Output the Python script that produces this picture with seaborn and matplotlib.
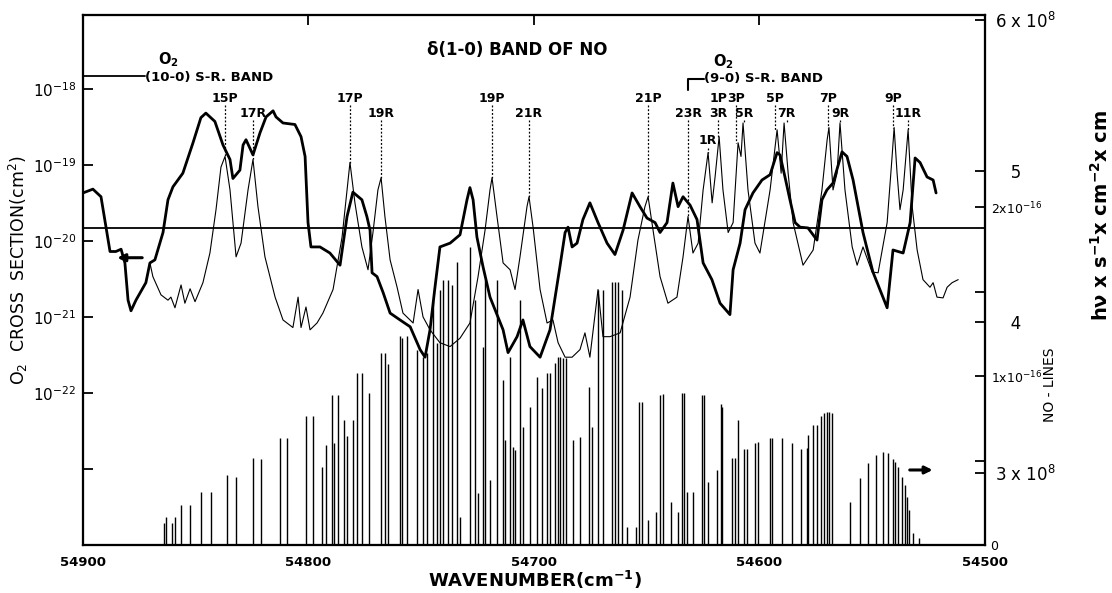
import matplotlib
matplotlib.use("Agg")
import matplotlib.pyplot as plt
from matplotlib.ticker import NullLocator
import numpy as np
import pandas as pd
import seaborn as sns

# (wavenumber cm-1, log10 cross section cm2)
thick_curve = [
    (54900.0, -19.37), (54895.6, -19.32), (54892.0, -19.42), (54889.8, -19.82), (54888.0, -20.14),
    (54885.4, -20.14), (54883.1, -20.11), (54881.4, -20.29), (54880.0, -20.78), (54878.7, -20.92),
    (54876.5, -20.78), (54872.1, -20.55), (54870.3, -20.29), (54868.1, -20.25), (54864.5, -19.89),
    (54862.3, -19.46), (54860.1, -19.29), (54855.7, -19.11), (54851.2, -18.71), (54847.7, -18.38),
    (54845.5, -18.32), (54841.5, -18.43), (54837.9, -18.74), (54834.8, -18.93), (54833.5, -19.18),
    (54830.4, -19.07), (54829.0, -18.74), (54827.7, -18.67), (54824.6, -18.87), (54821.5, -18.58),
    (54818.8, -18.37), (54815.7, -18.29), (54814.4, -18.37), (54811.3, -18.45), (54806.0, -18.47),
    (54803.3, -18.63), (54801.5, -18.89), (54800.2, -19.76), (54798.9, -20.08), (54794.9, -20.08),
    (54790.5, -20.16), (54786.0, -20.32), (54782.9, -19.68), (54780.3, -19.36), (54776.3, -19.46),
    (54774.1, -19.68), (54772.7, -19.86), (54771.8, -20.42), (54769.6, -20.47), (54766.9, -20.68),
    (54763.8, -20.95), (54759.4, -21.04), (54754.9, -21.13), (54750.5, -21.43), (54748.3, -21.53),
    (54746.1, -21.17), (54743.9, -20.61), (54741.7, -20.08), (54737.2, -20.03), (54732.8, -19.92),
    (54729.7, -19.46), (54728.4, -19.30), (54727.0, -19.46), (54725.3, -19.95), (54722.6, -20.34),
    (54719.5, -20.74), (54713.7, -21.17), (54711.5, -21.47), (54707.5, -21.26), (54704.9, -21.04),
    (54701.8, -21.39), (54697.3, -21.53), (54692.9, -21.17), (54688.5, -20.34), (54686.2, -19.89),
    (54684.9, -19.82), (54683.1, -20.08), (54680.9, -20.03), (54678.3, -19.72), (54675.2, -19.50),
    (54671.6, -19.76), (54667.6, -20.03), (54664.1, -20.18), (54660.5, -19.86), (54656.5, -19.37),
    (54653.0, -19.55), (54649.9, -19.70), (54646.3, -19.76), (54644.1, -19.89), (54641.0, -19.76),
    (54638.4, -19.24), (54636.1, -19.55), (54633.9, -19.42), (54630.8, -19.53), (54627.7, -19.72),
    (54625.0, -20.29), (54621.1, -20.51), (54617.5, -20.82), (54613.1, -20.97), (54611.7, -20.38),
    (54608.6, -20.03), (54606.4, -19.59), (54602.9, -19.37), (54598.9, -19.20), (54595.3, -19.13),
    (54592.2, -18.84), (54590.9, -18.87), (54588.7, -19.16), (54586.5, -19.46), (54584.2, -19.76),
    (54582.0, -19.82), (54578.5, -19.83), (54574.5, -19.99), (54572.3, -19.46), (54570.1, -19.33),
    (54567.4, -19.24), (54563.4, -18.83), (54561.2, -18.89), (54558.5, -19.20), (54554.1, -19.89),
    (54549.7, -20.41), (54543.4, -20.88), (54540.8, -20.12), (54536.3, -20.16), (54533.2, -19.76),
    (54531.0, -18.91), (54528.8, -18.97), (54525.7, -19.16), (54523.0, -19.20), (54521.7, -19.37),
]

thin_curve = [
    (54870.3, -20.29), (54869.0, -20.47), (54865.4, -20.71), (54862.3, -20.78), (54861.0, -20.74),
    (54859.2, -20.88), (54856.5, -20.58), (54854.8, -20.82), (54852.5, -20.63), (54850.3, -20.80),
    (54846.8, -20.55), (54843.7, -20.16), (54841.0, -19.59), (54838.8, -19.03), (54837.0, -18.89),
    (54834.8, -19.33), (54832.1, -20.21), (54829.9, -20.03), (54826.8, -19.33), (54824.6, -18.93),
    (54822.4, -19.55), (54819.3, -20.21), (54814.8, -20.74), (54811.3, -21.04), (54806.9, -21.14),
    (54804.6, -20.74), (54803.3, -21.14), (54801.1, -20.87), (54799.3, -21.17), (54796.2, -21.08),
    (54793.6, -20.95), (54789.1, -20.64), (54785.1, -19.95), (54782.9, -19.33), (54781.6, -18.97),
    (54779.4, -19.50), (54776.3, -20.08), (54773.6, -20.38), (54771.4, -19.89), (54769.2, -19.33),
    (54767.8, -19.17), (54766.1, -19.68), (54763.8, -20.25), (54760.7, -20.61), (54758.1, -20.95),
    (54753.6, -21.08), (54751.4, -20.64), (54749.2, -21.00), (54746.1, -21.17), (54741.7, -21.34),
    (54737.2, -21.39), (54732.8, -21.28), (54728.4, -21.08), (54724.8, -20.47), (54721.7, -19.86),
    (54719.5, -19.33), (54718.6, -19.17), (54716.4, -19.68), (54713.7, -20.29), (54710.6, -20.38),
    (54708.4, -20.64), (54706.2, -20.21), (54703.1, -19.55), (54702.2, -19.42), (54700.4, -19.82),
    (54697.3, -20.64), (54694.2, -21.08), (54691.6, -21.04), (54689.3, -21.34), (54686.2, -21.53),
    (54683.1, -21.53), (54679.6, -21.43), (54677.4, -21.21), (54675.2, -21.53), (54671.6, -20.64),
    (54669.4, -21.26), (54666.3, -21.26), (54661.8, -21.21), (54657.4, -20.74), (54653.9, -19.99),
    (54650.8, -19.55), (54649.4, -19.42), (54647.2, -19.86), (54644.1, -20.47), (54640.6, -20.82),
    (54636.6, -20.74), (54633.9, -20.21), (54631.7, -19.68), (54629.5, -20.16), (54627.2, -20.03),
    (54625.0, -19.33), (54622.8, -18.84), (54621.0, -19.50), (54619.7, -19.16), (54617.9, -18.63),
    (54616.2, -19.33), (54613.9, -19.89), (54611.7, -19.76), (54609.5, -18.71), (54608.2, -18.89),
    (54607.3, -18.45), (54605.1, -19.33), (54602.0, -20.03), (54599.8, -20.16), (54595.3, -19.33),
    (54592.2, -18.54), (54590.4, -19.11), (54589.1, -18.45), (54587.3, -19.11), (54585.1, -19.76),
    (54580.7, -20.32), (54576.2, -20.12), (54572.3, -19.33), (54570.0, -18.67), (54569.2, -18.51),
    (54567.4, -19.33), (54565.6, -19.11), (54564.3, -18.45), (54562.1, -19.33), (54558.9, -20.08),
    (54556.7, -20.32), (54554.1, -20.08), (54550.1, -20.41), (54547.4, -20.42), (54543.4, -19.76),
    (54541.2, -18.89), (54540.3, -18.51), (54539.0, -19.11), (54537.7, -19.59), (54536.3, -19.33),
    (54534.1, -18.54), (54532.3, -19.55), (54530.1, -20.12), (54527.5, -20.51), (54524.4, -20.61),
    (54523.0, -20.55), (54521.3, -20.74), (54518.6, -20.75), (54516.8, -20.61), (54514.6, -20.55),
    (54511.9, -20.51),
]

# NO line positions and strengths (units of 1e-16)
stick_wn = [
    54864.1, 54863.2, 54860.5, 54859.2, 54856.5, 54852.5, 54847.7, 54843.2, 54836.1, 54832.1,
    54824.6, 54821.1, 54812.6, 54809.5, 54801.1, 54798.0, 54794.0, 54792.2, 54789.6, 54788.7,
    54786.9, 54784.2, 54782.9, 54780.3, 54778.5, 54776.3, 54773.2, 54767.8, 54766.1, 54764.7,
    54759.4, 54758.5, 54756.3, 54751.9, 54749.2, 54747.4, 54744.8, 54743.0, 54741.7, 54740.3,
    54738.1, 54736.4, 54734.1, 54732.8, 54728.4, 54726.1, 54724.8, 54722.6, 54721.7, 54719.5,
    54716.4, 54713.7, 54712.8, 54710.6, 54709.3, 54708.4, 54706.2, 54704.9, 54701.8, 54698.7,
    54696.4, 54694.2, 54692.9, 54690.7, 54689.3, 54688.5, 54687.1, 54685.8,
    54682.7, 54679.6, 54675.6, 54674.3, 54671.6, 54669.4, 54665.4, 54664.1, 54662.7, 54661.0,
    54658.7, 54654.7, 54653.4, 54652.1, 54649.4, 54645.9, 54644.1, 54642.8, 54639.2, 54636.1,
    54634.3, 54633.5, 54632.1, 54629.5, 54625.5, 54624.6, 54622.8, 54618.8, 54617.0, 54616.6,
    54612.2, 54610.8, 54609.5, 54606.8, 54605.5, 54602.0, 54600.6, 54595.3, 54594.4, 54590.0,
    54585.6, 54581.6, 54578.9, 54578.5, 54576.2, 54574.5, 54572.7, 54571.4, 54570.0, 54569.2,
    54567.8,
    54559.8, 54555.4, 54551.9, 54548.3, 54545.2, 54543.0, 54540.8, 54539.9, 54538.5, 54536.8,
    54535.4, 54534.6, 54533.7, 54531.9, 54529.2,
]
stick_h = [
    0.130, 0.166, 0.130, 0.166, 0.237, 0.237, 0.314, 0.314, 0.414, 0.402,
    0.515, 0.509, 0.633, 0.633, 0.763, 0.763, 0.462, 0.592, 0.888, 0.604,
    0.888, 0.740, 0.645, 0.740, 1.018, 1.018, 0.899, 1.136, 1.136, 1.071,
    1.237, 1.225, 1.237, 1.154, 1.112, 1.136, 1.450, 1.195, 1.509, 1.568,
    1.568, 1.538, 1.675, 0.166, 1.763, 1.450, 0.308, 1.172, 1.568, 0.385,
    1.568, 0.976, 0.621, 1.112, 0.580, 0.562, 1.450, 0.698, 0.817, 0.994,
    0.929, 1.018, 1.018, 1.077, 1.112, 1.112, 1.107, 1.107,
    0.621, 0.639, 0.935, 0.698, 1.509, 1.509, 1.556, 1.556, 1.556, 1.509,
    0.107, 0.107, 0.846, 0.846, 0.148, 0.195, 0.888, 0.893, 0.254, 0.195,
    0.899, 0.899, 0.314, 0.314, 0.888, 0.888, 0.373, 0.444, 0.834, 0.817,
    0.515, 0.515, 0.740, 0.568, 0.568, 0.604, 0.609, 0.633, 0.633, 0.633,
    0.604, 0.568, 0.574, 0.651, 0.710, 0.710, 0.763, 0.781, 0.787, 0.787,
    0.781,
    0.254, 0.396, 0.485, 0.533, 0.550, 0.544, 0.509, 0.491, 0.462, 0.402,
    0.355, 0.284, 0.207, 0.071, 0.041,
]

# rotational line labels: name, wavenumber, row, log10 peak of thin curve
line_names = ["15P", "17R", "17P", "19R", "19P", "21R", "21P", "23R", "1R", "1P",
              "3R", "3P", "5R", "5P", "7R", "7P", "9R", "9P", "11R"]
line_wn = [54837.0, 54824.6, 54781.6, 54767.8, 54718.6, 54702.2, 54649.4, 54631.7, 54622.8, 54618.3,
           54618.3, 54610.2, 54606.8, 54593.1, 54588.0, 54569.6, 54564.3, 54540.8, 54534.2]
line_row = ["P", "R", "P", "R", "P", "R", "P", "R", "L", "P",
            "R", "P", "R", "P", "R", "P", "R", "P", "R"]
line_peak = [-18.89, -18.93, -18.97, -19.17, -19.17, -19.42, -19.42, -19.68, -18.84, None,
             -18.63, -18.71, -18.45, -18.54, -18.45, -18.51, -18.45, -18.51, -18.54]

solar_flux = 4.62e8
x_ticks = [54900, 54800, 54700, 54600, 54500]

sns.set_theme(style="ticks")
plt.rcParams['font.family'] = ['DejaVu Sans']
plt.rcParams['mathtext.default'] = 'regular'
for key in ('text.color', 'axes.labelcolor', 'xtick.color', 'ytick.color', 'axes.edgecolor'):
    plt.rcParams[key] = 'black'

fig = plt.figure(figsize=(11.12, 5.93), dpi=100)
ax = fig.add_axes([0.0746, 0.0809, 0.8112, 0.8938])
ax.set_yscale('log')
ax.set_xlim(54900, 54500)
ax.set_ylim(1e-24, 10 ** -17.03)

thick_df = pd.DataFrame(thick_curve, columns=['wn', 'logsig'])
thick_df['sigma'] = 10 ** thick_df['logsig']
thin_df = pd.DataFrame(thin_curve, columns=['wn', 'logsig'])
thin_df['sigma'] = 10 ** thin_df['logsig']

sns.lineplot(data=thin_df, x='wn', y='sigma', ax=ax, color='black', lw=0.8,
             sort=False, estimator=None)
sns.lineplot(data=thick_df, x='wn', y='sigma', ax=ax, color='black', lw=2.0,
             sort=False, estimator=None)

# line labels with dotted leaders
row_text = {'P': -18.13, 'R': -18.32, 'L': -18.68}
row_start = {'P': -18.22, 'R': -18.41, 'L': -18.78}
for name, wn, row, peak in zip(line_names, line_wn, line_row, line_peak):
    ax.text(wn, 10 ** row_text[row], name, ha='center', va='center',
            fontsize=9, fontweight='bold')
    if peak is not None:
        ax.plot([wn, wn], [10 ** row_start[row], 10 ** peak], color='black',
                lw=0.9, ls=(0, (1.5, 1.5)))

# O2 band annotations
ax.plot([54900, 54872.5], [10 ** -17.83] * 2, color='black', lw=1.3)
ax.text(54872.5, 10 ** -17.85, "(10-0) S-R. BAND", ha='left', va='center',
        fontsize=9.5, fontweight='bold')
ax.text(54862.3, 10 ** -17.62, "O$_2$", ha='center', va='center', fontsize=10.5, fontweight='bold')
ax.plot([54631.7, 54631.7, 54624.6], [10 ** -18.01, 10 ** -17.87, 10 ** -17.87],
        color='black', lw=1.5)
ax.text(54624.6, 10 ** -17.87, "(9-0) S-R. BAND", ha='left', va='center',
        fontsize=9.5, fontweight='bold')
ax.text(54616.2, 10 ** -17.64, "O$_2$", ha='center', va='center', fontsize=10.5, fontweight='bold')
ax.text(0.481, 0.934, "\u03b4(1-0) BAND OF NO", transform=ax.transAxes, ha='center',
        va='center', fontsize=12, fontweight='bold')

ax.annotate('', xy=(54886.0, 6.0e-21), xytext=(54872.5, 6.0e-21),
            arrowprops=dict(arrowstyle='-|>', color='black', lw=2.2, mutation_scale=11))

# NO lines axis
ax2 = ax.twinx()
ax2.set_ylim(0, 3.136e-16)
ax2.vlines(stick_wn, 0, np.array(stick_h) * 1e-16, color='black', lw=1.0)
ax2.annotate('', xy=(54522.0, 0.444e-16), xytext=(54534.6, 0.444e-16),
             arrowprops=dict(arrowstyle='-|>', color='black', lw=2.2, mutation_scale=11))

# solar flux axis
ax3 = ax.twinx()
ax3.set_ylim(2.523e8, 6.033e8)
ax3.axhline(solar_flux, color='black', lw=1.3)

for a in (ax, ax2, ax3):
    for s in a.spines.values():
        s.set_color('black')
        s.set_linewidth(1.5)

ax.set_xticks(x_ticks)
ax.set_xticklabels([str(t) for t in x_ticks])
ax.tick_params(axis='x', top=True, bottom=False, direction='in', length=7, width=1.3,
               labelsize=9.5, pad=8)
for lab in ax.get_xticklabels():
    lab.set_fontweight('bold')

ax.yaxis.set_minor_locator(NullLocator())
ax.set_yticks([1e-23, 1e-22, 1e-21, 1e-20, 1e-19, 1e-18])
ax.set_yticklabels(['', '$10^{-22}$', '$10^{-21}$', '$10^{-20}$', '$10^{-19}$', '$10^{-18}$'])
ax.tick_params(axis='y', direction='in', length=7, width=1.3, labelsize=11, pad=5)
ax.set_xlabel('')
ax.set_ylabel('')

ax2.set_yticks([0, 0.5e-16, 1e-16, 1.5e-16, 2e-16])
ax2.set_yticklabels(['0', '', '1x10$^{-16}$', '', '2x10$^{-16}$'])
ax2.tick_params(axis='y', direction='in', length=7, width=1.3, labelsize=9, pad=4)

ax3.set_yticks([3e8, 4e8, 5e8, 6e8])
ax3.set_yticklabels(['3 x 10$^8$', '   4', '   5', '6 x 10$^8$'])
ax3.tick_params(axis='y', direction='in', length=7, width=1.3, labelsize=12, pad=7)

fig.text(0.017, 0.545, "O$_2$  CROSS  SECTION(cm$^2$)", rotation=90, ha='center', va='center',
         fontsize=12.5)
fig.text(0.481, 0.022, "WAVENUMBER(cm$^{-1}$)", ha='center', va='center', fontsize=13,
         fontweight='bold')
fig.text(0.944, 0.351, "NO - LINES", rotation=90, ha='center', va='center', fontsize=10)
fig.text(0.99, 0.637, "h\u03bd x s$^{-1}$x cm$^{-2}$x cm", rotation=90, ha='center',
         va='center', fontsize=14, fontweight='bold')

fig.savefig("out.png", dpi=100)
